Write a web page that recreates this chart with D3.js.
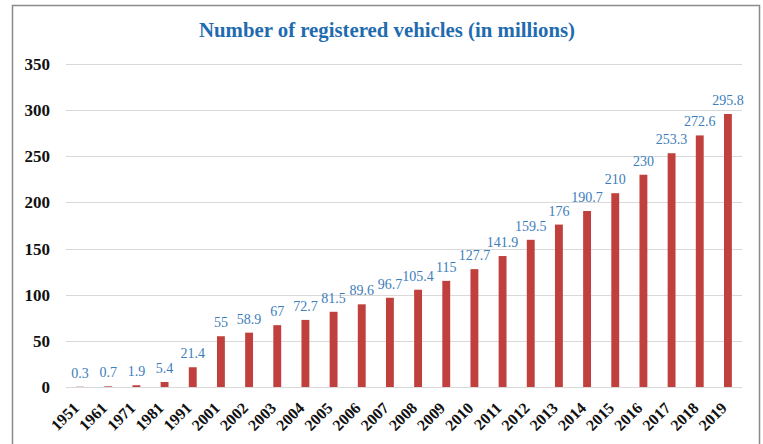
<!DOCTYPE html>
<html>
<head>
<meta charset="utf-8">
<script src="https://cdn.jsdelivr.net/npm/d3@7"></script>
<style>
  html, body { margin: 0; padding: 0; background: #fff; }
  svg { display: block; }
</style>
</head>
<body>
<div id="chart"></div>
<script>
// Registered vehicles in India, millions
const years = ["1951", "1961", "1971", "1981", "1991", "2001", "2002", "2003", "2004",
  "2005", "2006", "2007", "2008", "2009", "2010", "2011", "2012", "2013", "2014",
  "2015", "2016", "2017", "2018", "2019"];
const vehicles = [0.3, 0.7, 1.9, 5.4, 21.4, 55, 58.9, 67, 72.7, 81.5, 89.6, 96.7,
  105.4, 115, 127.7, 141.9, 159.5, 176, 190.7, 210, 230, 253.3, 272.6, 295.8];
const yTicks = [0, 50, 100, 150, 200, 250, 300, 350];
const title = "Number of registered vehicles (in millions)";

const W = 763, H = 444;
const margin = { left: 66, right: 21, top: 64, bottom: 57 };
const serif = "'Liberation Serif', 'Times New Roman', serif";

const svg = d3.select("#chart").append("svg")
  .attr("width", W).attr("height", H);

// outer frame
svg.append("rect")
  .attr("x", 12.5).attr("y", 5.5)
  .attr("width", 747).attr("height", 460)
  .attr("fill", "none").attr("stroke", "#8a8a8a").attr("stroke-width", 1.5);

svg.append("text")
  .attr("x", 387).attr("y", 37)
  .attr("text-anchor", "middle")
  .attr("font-family", serif)
  .attr("font-weight", "bold")
  .attr("font-size", 20.8)
  .attr("fill", "#1f6bb0")
  .text(title);

const x = d3.scaleBand()
  .domain(years)
  .range([margin.left, W - margin.right])
  .paddingInner(0.72)
  .paddingOuter(0.36);

const y = d3.scaleLinear()
  .domain([0, 350])
  .range([387, margin.top]);

// horizontal gridlines
svg.append("g")
  .selectAll("line")
  .data(yTicks)
  .join("line")
  .attr("x1", margin.left).attr("x2", W - margin.right)
  .attr("y1", d => Math.round(y(d)) + 0.5).attr("y2", d => Math.round(y(d)) + 0.5)
  .attr("stroke", "#d9d9d9").attr("stroke-width", 1.2);

// y axis labels
const yAxis = svg.append("g")
  .attr("transform", `translate(${margin.left - 16},0)`)
  .call(d3.axisLeft(y).tickValues(yTicks).tickSize(0).tickPadding(0));
yAxis.select(".domain").remove();
yAxis.selectAll("text")
  .attr("font-family", serif)
  .attr("font-weight", "bold")
  .attr("font-size", 17)
  .attr("fill", "#111");

// bars
svg.append("g")
  .selectAll("rect")
  .data(years)
  .join("rect")
  .attr("x", d => x(d))
  .attr("width", x.bandwidth())
  .attr("y", (d, i) => y(vehicles[i]))
  .attr("height", (d, i) => y(0) - y(vehicles[i]))
  .attr("fill", "#c0403d");

// value labels
svg.append("g")
  .selectAll("text")
  .data(years)
  .join("text")
  .attr("x", d => x(d) + x.bandwidth() / 2)
  .attr("y", (d, i) => y(vehicles[i]) - 9)
  .attr("text-anchor", "middle")
  .attr("font-family", serif)
  .attr("font-size", 14)
  .attr("fill", "#3c7dbb")
  .text((d, i) => vehicles[i]);

// x axis labels, rotated
const xAxis = svg.append("g")
  .attr("transform", `translate(0,${y(0)})`)
  .call(d3.axisBottom(x).tickSize(0).tickPadding(0));
xAxis.select(".domain").remove();
xAxis.selectAll("text")
  .attr("font-family", serif)
  .attr("font-weight", "bold")
  .attr("font-size", 16)
  .attr("fill", "#111")
  .attr("text-anchor", "end")
  .attr("dy", null)
  .attr("y", 0)
  .attr("transform", "translate(0,22) rotate(-45)");
</script>
</body>
</html>
